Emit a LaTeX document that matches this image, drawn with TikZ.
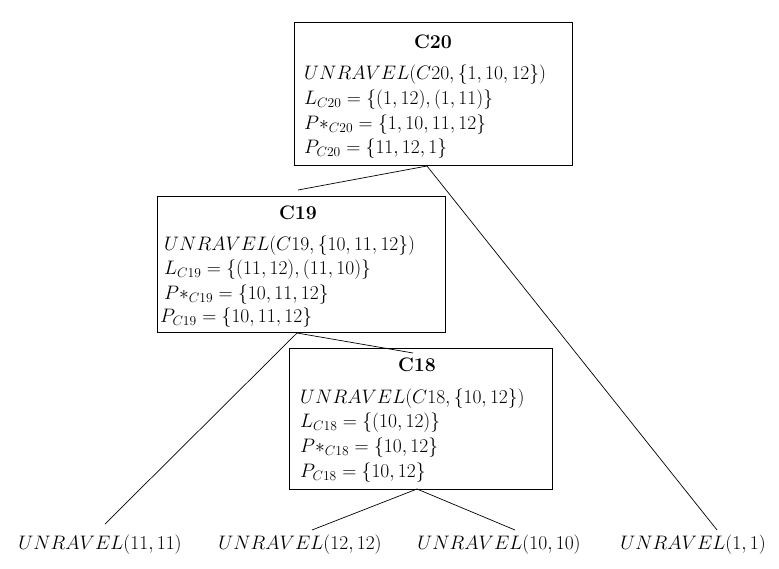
\documentclass[tikz,border=0pt]{standalone}
\usepackage{graphicx}
\newcommand\zbox[1]{\scalebox{1.13}{#1}}
\begin{document}
\begin{tikzpicture}[x=1pt,y=-1pt,
  box/.style={draw,line width=0.7pt,minimum width=#1,inner sep=0pt,anchor=north west},
  txt/.style={anchor=west,inner sep=0pt,font=\fontsize{17.28}{20}\selectfont},
  ttl/.style={inner sep=0pt,font=\fontsize{17.28}{20}\selectfont\bfseries},
  leaf/.style={inner sep=0pt,font=\fontsize{17.28}{20}\selectfont},
  edge/.style={line width=0.7pt}]
\useasboundingbox (0,0) rectangle (779,568);
% boxes
\node[box=278pt,minimum height=143pt] (c20) at (294,22) {};
\node[box=288pt,minimum height=136pt] (c19) at (157,196) {};
\node[box=263pt,minimum height=141pt] (c18) at (289,348) {};
% C20 text
\node[ttl] (t20) at (433,42) {\zbox{C20}};
\node[txt] (a20) at (304,75) {\zbox{$UNRAVEL(C20,\{1,10,12\})$}};
\node[txt] (b20) at (304,100) {\zbox{$L_{C20}=\{(1,12),(1,11)\}$}};
\node[txt] (d20) at (304,125) {\zbox{$P{*}_{C20}=\{1,10,11,12\}$}};
\node[txt] (e20) at (304,149) {\zbox{$P_{C20}=\{11,12,1\}$}};
% C19 text
\node[ttl] (t19) at (298,213) {\zbox{C19}};
\node[txt] (a19) at (164,246) {\zbox{$UNRAVEL(C19,\{10,11,12\})$}};
\node[txt] (b19) at (164,270) {\zbox{$L_{C19}=\{(11,12),(11,10)\}$}};
\node[txt] (d19) at (164,295) {\zbox{$P{*}_{C19}=\{10,11,12\}$}};
\node[txt] (e19) at (160,318) {\zbox{$P_{C19}=\{10,11,12\}$}};
% C18 text
\node[ttl] (t18) at (417,365) {\zbox{C18}};
\node[txt] (a18) at (300,399) {\zbox{$UNRAVEL(C18,\{10,12\})$}};
\node[txt] (b18) at (300,423) {\zbox{$L_{C18}=\{(10,12)\}$}};
\node[txt] (d18) at (300,448) {\zbox{$P{*}_{C18}=\{10,12\}$}};
\node[txt] (e18) at (300,473) {\zbox{$P_{C18}=\{10,12\}$}};
% leaves
\node[leaf] (l1) at (100,545) {\zbox{$UNRAVEL(11,11)$}};
\node[leaf] (l2) at (300,545) {\zbox{$UNRAVEL(12,12)$}};
\node[leaf] (l3) at (499,545) {\zbox{$UNRAVEL(10,10)$}};
\node[leaf] (l4) at (693,545) {\zbox{$UNRAVEL(1,1)$}};
% connector points
\coordinate (c20b) at (427,166);
\coordinate (c19t) at (298,190);
\coordinate (c19b) at (297,333);
\coordinate (c18t) at (413,353);
\coordinate (c18b) at (417,489);
\coordinate (l1t) at (105,524);
\coordinate (l2t) at (312,530);
\coordinate (l3t) at (515,530);
\coordinate (l4t) at (717,530);
\draw[edge] (c20b) -- (c19t);
\draw[edge] (c20b) -- (l4t);
\draw[edge] (c19b) -- (l1t);
\draw[edge] (c19b) -- (c18t);
\draw[edge] (c18b) -- (l2t);
\draw[edge] (c18b) -- (l3t);
\end{tikzpicture}
\end{document}
